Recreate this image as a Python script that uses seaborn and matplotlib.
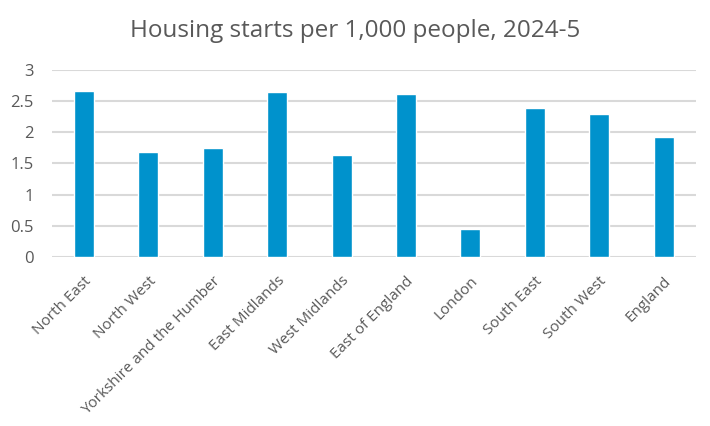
import matplotlib
matplotlib.use('agg')
import matplotlib.pyplot as plt
import seaborn as sns
import pandas as pd

# Housing starts per 1,000 people by region
regions = ["North East", "North West", "Yorkshire and the Humber", "East Midlands",
           "West Midlands", "East of England", "London", "South East",
           "South West", "England"]
starts = [2.66, 1.68, 1.74, 2.64, 1.63, 2.61, 0.44, 2.385, 2.30, 1.92]
yticks = [0, 0.5, 1, 1.5, 2, 2.5, 3]
ytick_labels = ["0", "0.5", "1", "1.5", "2", "2.5", "3"]

df = pd.DataFrame({"Region": regions, "Starts": starts})

sns.set_style("white")
plt.rcParams['font.family'] = ['Open Sans', 'DejaVu Sans']
text_col = "#595959"

fig = plt.figure(figsize=(7.1, 4.26), dpi=100)
ax = fig.add_axes([0.073, 0.397, 0.907, 0.439])
sns.barplot(data=df, x="Region", y="Starts", color="#0092cc", saturation=1,
            width=0.31, ax=ax, zorder=3)

ax.set_ylim(0, 3)
ax.set_yticks(yticks)
ax.set_yticklabels(ytick_labels, fontsize=12, color=text_col)
ax.yaxis.grid(True, color="#d9d9d9", linewidth=1.5, zorder=0)
ax.set_axisbelow(True)
for s in ax.spines.values():
    s.set_visible(False)
ax.tick_params(axis="y", length=0, pad=13)
ax.tick_params(axis="x", length=0, pad=12)
ax.set_xticks(range(len(regions)))
ax.set_xticklabels(regions, rotation=45, ha="right", rotation_mode="anchor",
                   fontsize=11, color=text_col)
ax.set_xlabel("")
ax.set_ylabel("")
ax.set_xlim(-0.5, len(regions) - 0.5)
fig.suptitle("Housing starts per 1,000 people, 2024-5", fontsize=17.5,
             color=text_col, y=0.955)

fig.savefig("out.png", dpi=100)
